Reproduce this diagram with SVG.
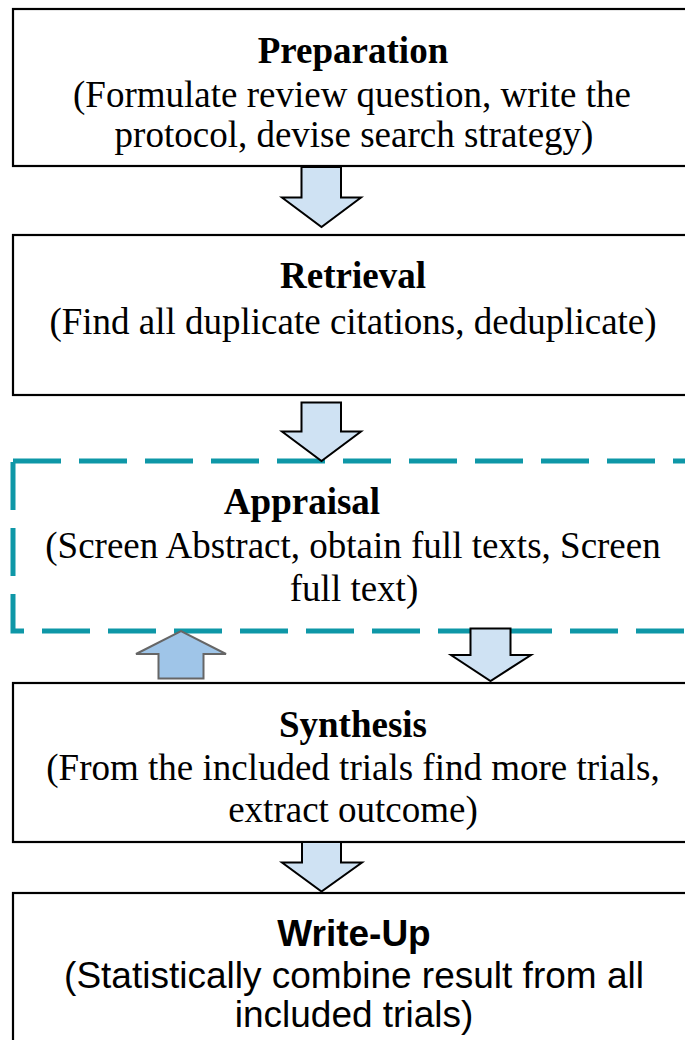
<svg xmlns="http://www.w3.org/2000/svg" width="685" height="1040" viewBox="0 0 685 1040">
<style>
.box{fill:#ffffff;stroke:#000000;stroke-width:2.2}
.dash{fill:none;stroke:#0E97A7;stroke-width:5;stroke-dasharray:48 18}
.arr{fill:#CFE2F3;stroke:#000000;stroke-width:2;stroke-linejoin:miter}
.arrup{fill:#9FC5E8;stroke:#666666;stroke-width:2}
.t{font-family:"Liberation Serif","Times New Roman",serif;font-size:37px;fill:#000;text-anchor:middle}
.tb{font-weight:bold}
.s{font-family:"Liberation Sans",Arial,sans-serif;font-size:37px;fill:#000;text-anchor:middle}
</style>
<rect width="685" height="1040" fill="#ffffff"/>
<g id="preparation">
<rect class="box" x="13" y="9" width="700" height="157"/>
<text class="t tb" x="353" y="63">Preparation</text>
<text class="t" x="352" y="107">(Formulate review question, write the</text>
<text class="t" x="354" y="147">protocol, devise search strategy)</text>
</g>
<g id="retrieval">
<rect class="box" x="13" y="235" width="700" height="160"/>
<text class="t tb" x="353" y="288">Retrieval</text>
<text class="t" x="353" y="334">(Find all duplicate citations, deduplicate)</text>
</g>
<g id="appraisal">
<path class="dash" d="M13,461 H700"/>
<path class="dash" d="M13,461 V631 H700" style="stroke-dashoffset:-1"/>
<text class="t tb" x="302" y="514">Appraisal</text>
<text class="t" x="353" y="558">(Screen Abstract, obtain full texts, Screen</text>
<text class="t" x="354" y="601">full text)</text>
</g>
<g id="synthesis">
<rect class="box" x="13" y="683" width="700" height="159"/>
<text class="t tb" x="353" y="737">Synthesis</text>
<text class="t" x="353" y="780">(From the included trials find more trials,</text>
<text class="t" x="353" y="822">extract outcome)</text>
</g>
<g id="writeup">
<rect class="box" x="13" y="893" width="700" height="160"/>
<text class="s tb" x="354" y="946">Write-Up</text>
<text class="s" x="354" y="988">(Statistically combine result from all</text>
<text class="s" x="354" y="1027">included trials)</text>
</g>
<g id="connectors">
<path class="arr" d="M301.5,167 H341 V197.5 H361 L321.5,227 L282,197.5 H301.5 Z"/>
<path class="arr" d="M301.5,402.5 H341 V431.5 H361 L321.5,461 L282,431.5 H301.5 Z"/>
<path class="arr" d="M470.5,628.5 H510.5 V655 H531 L490.5,681 L451,655 H470.5 Z"/>
<path class="arrup" d="M158.5,678.5 V654 H136 L181,631 L226,654 H203.5 V678.5 Z"/>
<path class="arr" d="M302,842 H341 V862.5 H362 L321.5,891.5 L282,862.5 H302 Z"/>
</g>
</svg>
